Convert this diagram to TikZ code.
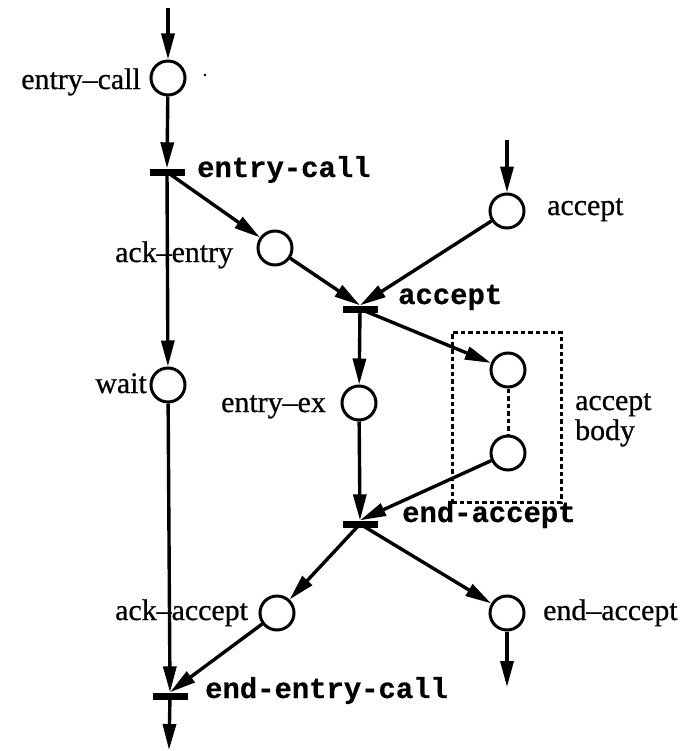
\documentclass[tikz,border=0pt]{standalone}
\usepackage{fontspec}
\setmainfont{Liberation Serif}
\newfontfamily\labelfont{Liberation Serif}[Ligatures=TeX,FakeBold=0.7]
\newfontfamily\codefont{Liberation Mono Bold}[FakeBold=0.6]
\usetikzlibrary{arrows.meta}

\begin{document}
\begin{tikzpicture}[x=1bp,y=-1bp,
  place/.style={circle,draw,line width=3bp,minimum size=34bp,inner sep=0pt},
  trans/.style={rectangle,fill=black,minimum width=35bp,minimum height=7bp,inner sep=0pt},
  arc/.style={line width=3.4bp,-{Triangle[length=26bp,width=13bp]}},
  lbl/.style={font=\labelfont\fontsize{30}{30}\selectfont,inner sep=0pt},
  tlbl/.style={font=\codefont\fontsize{29}{29}\selectfont,inner sep=0pt},
  dots/.style={line width=3bp,dash pattern=on 4.5bp off 3bp},
]
\useasboundingbox (0,0) rectangle (682,751);

% places
\node[place] (pcall)   at (168,78)  {};
\node[place] (pack)    at (275,248) {};
\node[place] (pacc)    at (507,211) {};
\node[place] (pwait)   at (168,385) {};
\node[place] (pex)     at (359,403) {};
\node[place] (pbody1)  at (508,370) {};
\node[place] (pbody2)  at (508,453) {};
\node[place] (packacc) at (277,613) {};
\node[place] (pend)    at (507,613) {};

% transitions
\node[trans] (tcall)   at (167,172) {};
\node[trans] (tacc)    at (360,309) {};
\node[trans] (tend)    at (360,524) {};
\node[trans] (tfinish) at (170,696) {};

% free ends
\coordinate (in1)  at (168,8);
\coordinate (in2)  at (507,140);
\coordinate (out1) at (507,687);
\coordinate (out2) at (169,750);

% accept body region
\node[draw,dots,minimum width=109bp,minimum height=170bp,inner sep=0pt] (bodybox) at (506.5,417) {};
\draw[dots] (pbody1) -- (pbody2);

% arcs
\draw[arc] (in1) -- (pcall);
\draw[arc] (pcall) -- (tcall.north);
\draw[arc] (tcall.center) -- (pwait);
\draw[arc] (tcall.center) -- (pack);
\draw[arc] (in2) -- (pacc);
\draw[arc] (pack) -- (tacc.north);
\draw[arc] (pacc) -- (tacc.north);
\draw[arc] (tacc.center) -- (pex);
\draw[arc] (tacc.center) -- (pbody1);
\draw[arc] (pex) -- (tend.north);
\draw[arc] (pbody2) -- (tend.north);
\draw[arc] (tend.center) -- (packacc);
\draw[arc] (tend.center) -- (pend);
\draw[arc] (pend) -- (out1);
\draw[arc] (pwait) -- (tfinish.north);
\draw[arc] (packacc) -- (tfinish.north);
\draw[arc] (tfinish.center) -- (out2);

% place labels
\node[lbl,anchor=base east] (lcall) at (141,89) {entry--call};
\node[lbl,anchor=base west] (lack) at (115,262) {ack--entry};
\node[lbl,anchor=base west] (lacc) at (547,215) {accept};
\node[lbl,anchor=base east] (lwait) at (147,393) {wait};
\node[lbl,anchor=base west] (lex) at (221,412) {entry--ex};
\node[lbl,anchor=base west] (lbody1) at (575,410) {accept};
\node[lbl,anchor=base west] (lbody2) at (575,440) {body};
\node[lbl,anchor=base west] (lackacc) at (115,620) {ack--accept};
\node[lbl,anchor=base west] (lend) at (543,620) {end--accept};

% transition labels
\node[tlbl,anchor=base west] (tlcall) at (197,177) {entry-call};
\node[tlbl,anchor=base west] (tlacc) at (398,304) {accept};
\node[tlbl,anchor=base west] (tlend) at (402,522) {end-accept};
\node[tlbl,anchor=base west] (tlfinish) at (205,698) {end-entry-call};

% small speck beside the first place
\fill (205,75) circle (1.3bp);
\end{tikzpicture}
\end{document}
